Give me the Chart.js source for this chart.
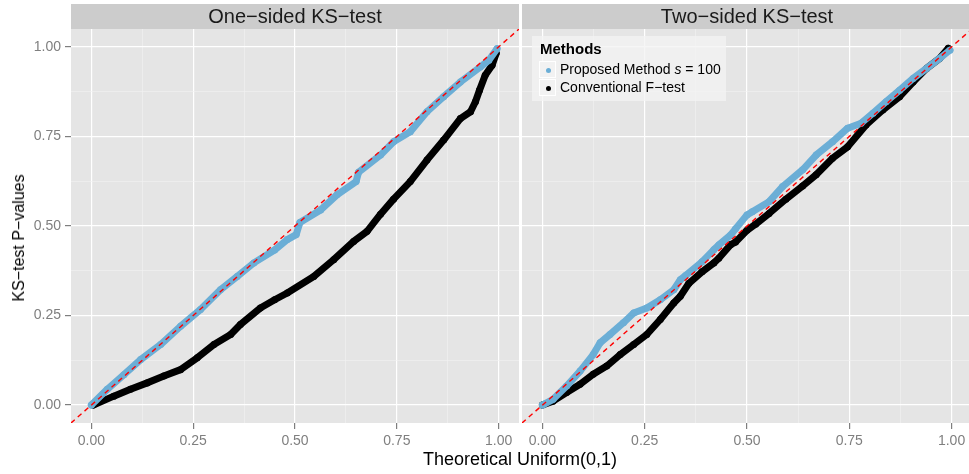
<!DOCTYPE html>
<html><head><meta charset="utf-8">
<script src="https://cdn.jsdelivr.net/npm/chart.js@4.4.1/dist/chart.umd.min.js"></script>
<style>
body{margin:0;background:#fff;width:969px;height:474px;overflow:hidden;position:relative;font-family:"Liberation Sans",Arial,Helvetica,sans-serif;}
canvas{position:absolute;top:0;}
#c1{left:0px}
#c2{left:522px}
.ytitle{position:absolute;left:19px;top:238px;transform:translate(-50%,-50%) rotate(-90deg);font-size:16px;color:#000;white-space:nowrap;}
.xtitle{position:absolute;left:520px;top:459px;transform:translate(-50%,-50%);font-size:18px;color:#000;white-space:nowrap;}
#legend{position:absolute;left:532px;top:36px;width:194px;height:65px;background:rgba(243,243,243,0.77);}
#legend .lt{position:absolute;left:8px;top:4px;font-size:15px;font-weight:bold;color:#000;}
#legend .key{position:absolute;left:7px;width:17px;height:17px;background:#F2F2F2;box-sizing:border-box;border:1px solid #fff;}
#legend .dot{position:absolute;left:6px;top:6px;width:5px;height:5px;border-radius:50%;}
#legend .lab{position:absolute;left:28px;font-size:14px;color:#000;white-space:nowrap;}
</style></head>
<body>
<canvas id="c1" width="519" height="474"></canvas>
<canvas id="c2" width="450" height="474"></canvas>
<div class="ytitle">KS−test P−values</div>
<div class="xtitle">Theoretical Uniform(0,1)</div>
<div id="legend"></div>
<script>
// ---- data ----
const panelTitles = ['One\u2212sided KS\u2212test', 'Two\u2212sided KS\u2212test'];
const legendTitle = 'Methods';
const seriesColors = ['#6BAED6', '#000000'];

// One-sided panel
const p1PropX = [0.000,0.039,0.080,0.121,0.170,0.219,0.268,0.317,0.358,0.399,0.450,0.481,0.503,0.512,0.563,0.603,0.650,0.656,0.710,0.742,0.783,0.824,0.865,0.906,0.955,0.976,0.996];
const p1PropY = [0.000,0.044,0.085,0.127,0.169,0.220,0.267,0.322,0.359,0.397,0.433,0.462,0.476,0.510,0.545,0.587,0.624,0.650,0.698,0.735,0.763,0.819,0.861,0.902,0.944,0.963,0.995];
const p1ConvX = [0.005,0.055,0.096,0.137,0.178,0.219,0.260,0.301,0.342,0.366,0.415,0.450,0.481,0.546,0.595,0.644,0.677,0.710,0.742,0.783,0.824,0.865,0.906,0.931,0.943,0.953,0.967,0.984,0.994];
const p1ConvY = [0.000,0.025,0.044,0.062,0.081,0.099,0.132,0.169,0.197,0.225,0.271,0.294,0.313,0.359,0.406,0.457,0.485,0.533,0.575,0.624,0.684,0.740,0.800,0.819,0.847,0.879,0.921,0.949,0.982];

// Two-sided panel
const p2PropX = [0.000,0.026,0.059,0.092,0.124,0.141,0.165,0.198,0.223,0.255,0.288,0.321,0.337,0.350,0.390,0.419,0.431,0.460,0.472,0.500,0.513,0.554,0.587,0.636,0.669,0.709,0.746,0.779,0.808,0.840,0.873,0.906,0.939,0.971,0.996];
const p2PropY = [0.000,0.016,0.053,0.095,0.141,0.174,0.197,0.230,0.257,0.271,0.294,0.322,0.350,0.362,0.400,0.434,0.447,0.475,0.492,0.531,0.540,0.568,0.610,0.657,0.698,0.735,0.773,0.787,0.815,0.847,0.879,0.912,0.940,0.968,0.991];
const p2ConvX = [0.000,0.026,0.059,0.092,0.124,0.157,0.190,0.223,0.255,0.288,0.321,0.337,0.358,0.390,0.419,0.431,0.460,0.472,0.500,0.521,0.554,0.595,0.636,0.669,0.709,0.746,0.791,0.832,0.873,0.906,0.939,0.971,0.992];
const p2ConvY = [0.000,0.011,0.035,0.058,0.086,0.109,0.141,0.169,0.197,0.239,0.285,0.304,0.340,0.372,0.397,0.410,0.448,0.455,0.488,0.505,0.535,0.575,0.612,0.643,0.689,0.721,0.782,0.824,0.861,0.902,0.940,0.968,0.996];

// reference line y = x across the panel range
const refLine = [-0.05, 1.05];
const axisRange = [-0.05, 1.05];
const gridValues = [0, 0.125, 0.25, 0.375, 0.5, 0.625, 0.75, 0.875, 1];
const tickValues = [0, 0.25, 0.5, 0.75, 1];

// ---- chart building ----
const FONT = '"Liberation Sans", Arial, Helvetica, sans-serif';
const pts = (xs, ys) => xs.map((x, i) => ({x: x, y: ys[i]}));
const isMajor = v => tickValues.includes(v);

const panelBg = {
  id: 'panelBg',
  beforeDraw(chart) {
    const {ctx, chartArea: a} = chart;
    ctx.save();
    ctx.fillStyle = '#E5E5E5';
    ctx.fillRect(a.left, a.top, a.right - a.left, a.bottom - a.top);
    ctx.fillStyle = '#CCCCCC';
    ctx.fillRect(a.left, 4, a.right - a.left, a.top - 4);
    ctx.restore();
  }
};

function axis(showLabels, fitFn) {
  return {
    type: 'linear', min: axisRange[0], max: axisRange[1],
    afterBuildTicks: s => { s.ticks = gridValues.map(v => ({value: v})); },
    afterFit: s => {
      fitFn(s);
      s.paddingLeft = 0; s.paddingRight = 0; s.paddingTop = 0; s.paddingBottom = 0;
    },
    border: {display: false},
    ticks: {
      display: showLabels, autoSkip: false, maxRotation: 0, padding: 4,
      color: '#7F7F7F', font: {family: FONT, size: 14},
      callback: v => isMajor(v) ? v.toFixed(2) : ''
    },
    grid: {
      drawTicks: showLabels, tickLength: 6,
      color: c => (c.tick && isMajor(c.tick.value)) ? '#FFFFFF' : '#F2F2F2',
      lineWidth: c => (c.tick && isMajor(c.tick.value)) ? 1.2 : 0.6,
      tickColor: c => (c.tick && isMajor(c.tick.value)) ? '#7F7F7F' : 'rgba(0,0,0,0)',
      tickWidth: 1.2
    }
  };
}

function makePanel(id, title, propX, propY, convX, convY, showY) {
  return new Chart(document.getElementById(id), {
    type: 'scatter',
    data: {
      datasets: [
        {label: 'y = x', data: pts(refLine, refLine), showLine: true,
         borderColor: '#FF0000', borderWidth: 1.4, borderDash: [5, 4],
         pointRadius: 0, fill: false},
        {label: 'Proposed Method s = 100', data: pts(propX, propY), showLine: true,
         borderColor: seriesColors[0], backgroundColor: seriesColors[0],
         borderWidth: 7, borderCapStyle: 'round', borderJoinStyle: 'round',
         pointRadius: 3.5, pointBorderWidth: 0, tension: 0},
        {label: 'Conventional F\u2212test', data: pts(convX, convY), showLine: true,
         borderColor: seriesColors[1], backgroundColor: seriesColors[1],
         borderWidth: 7, borderCapStyle: 'round', borderJoinStyle: 'round',
         pointRadius: 3.5, pointBorderWidth: 0, tension: 0}
      ]
    },
    options: {
      responsive: false, animation: false, events: [],
      layout: {padding: 0, autoPadding: false},
      plugins: {
        legend: {display: false}, tooltip: {enabled: false},
        title: {display: true, text: title, fullSize: false, color: '#1A1A1A',
                font: {family: FONT, size: 20, weight: 'normal', lineHeight: 1.2},
                padding: {top: 5, bottom: 0}}
      },
      scales: {
        x: axis(true, s => { s.height = 51; }),
        y: axis(showY, s => { s.width = showY ? 71 : 0; })
      }
    },
    plugins: [panelBg]
  });
}

makePanel('c1', panelTitles[0], p1PropX, p1PropY, p1ConvX, p1ConvY, true);
makePanel('c2', panelTitles[1], p2PropX, p2PropY, p2ConvX, p2ConvY, false);

// legend (inside right panel)
const lg = document.getElementById('legend');
lg.innerHTML =
  '<div class="lt">' + legendTitle + '</div>' +
  '<div class="key" style="top:25px"><div class="dot" style="background:' + seriesColors[0] + '"></div></div>' +
  '<div class="lab" style="top:25px">Proposed Method <i>s</i> = 100</div>' +
  '<div class="key" style="top:43px"><div class="dot" style="background:' + seriesColors[1] + '"></div></div>' +
  '<div class="lab" style="top:43px">Conventional F\u2212test</div>';
</script>
</body></html>
